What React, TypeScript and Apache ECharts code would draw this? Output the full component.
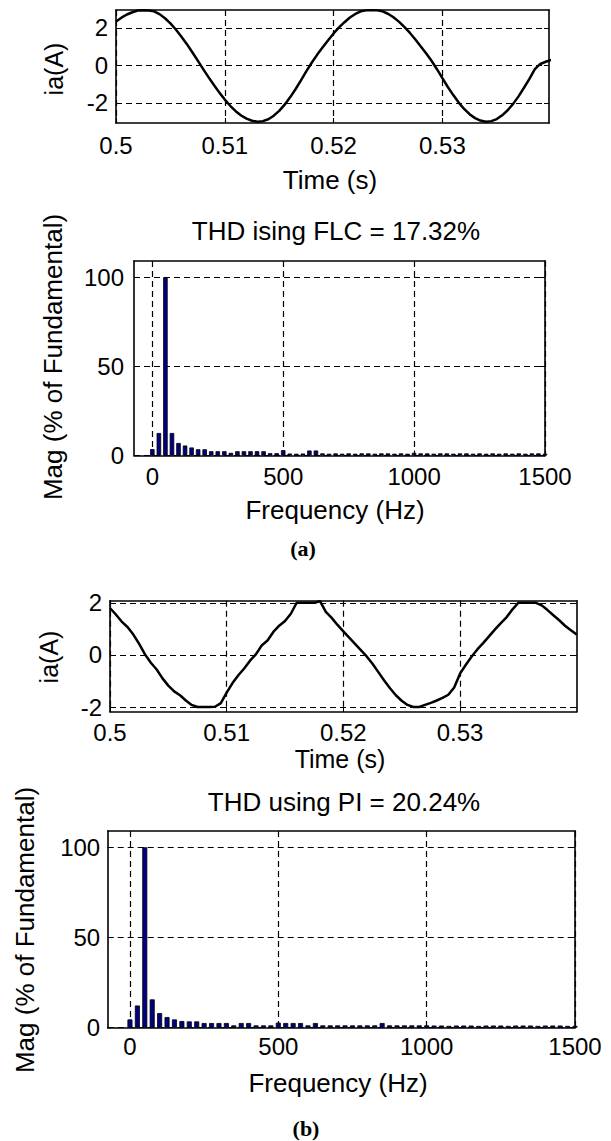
import React, { useEffect, useRef } from "react";
import * as echarts from "echarts";

// ---------- data ----------
const T_START = 0.5;
const T_STEP = 0.0005;

// (a) phase current with FLC, sampled every 0.5 ms from 0.5 s
const iaFLC = [
  2.35, 2.55, 2.72, 2.84, 2.93, 2.95, 2.93, 2.89, 2.74, 2.52,
  2.25, 1.92, 1.55, 1.15, 0.72, 0.27, -0.18, -0.62, -1.04, -1.45,
  -1.82, -2.15, -2.44, -2.67, -2.84, -2.95, -3.0, -2.97, -2.87, -2.68,
  -2.42, -2.09, -1.7, -1.27, -0.8, -0.3, 0.16, 0.58, 0.97, 1.35,
  1.71, 2.03, 2.31, 2.56, 2.75, 2.89, 2.94, 2.95, 2.94, 2.89,
  2.76, 2.57, 2.34, 2.06, 1.75, 1.4, 1.03, 0.65, 0.25, -0.2,
  -0.68, -1.15, -1.58, -1.98, -2.32, -2.6, -2.81, -2.94, -3.0, -2.97,
  -2.86, -2.66, -2.39, -2.05, -1.65, -1.19, -0.71, -0.2, 0.08, 0.2,
  0.3,
];

// (b) phase current with PI, sampled every 0.5 ms from 0.5 s
const iaPI = [
  1.8, 1.55, 1.28, 1.07, 0.78, 0.42, 0.02, -0.3, -0.56, -0.9,
  -1.18, -1.4, -1.55, -1.75, -1.92, -2.0, -2.0, -2.0, -1.99, -1.85,
  -1.45, -1.08, -0.78, -0.52, -0.22, 0.02, 0.36, 0.55, 0.88, 1.12,
  1.3, 1.58, 2.0, 2.0, 2.0, 2.0, 2.06, 1.65, 1.42, 1.15,
  0.9, 0.66, 0.42, 0.18, -0.06, -0.34, -0.66, -0.98, -1.28, -1.55,
  -1.76, -1.92, -2.0, -2.0, -1.92, -1.84, -1.75, -1.65, -1.53, -1.25,
  -0.72, -0.38, -0.06, 0.22, 0.46, 0.72, 0.98, 1.22, 1.45, 1.75,
  2.0, 2.0, 2.0, 2.0, 1.9, 1.72, 1.52, 1.33, 1.12, 0.95,
  0.78,
];

// spectra: bins every 25 Hz from 0 to 1500 Hz, % of fundamental
const FREQ_STEP = 25;
const magFLC = [
  3.6, 12.6, 100, 12.6, 7.0, 5.6, 4.5, 3.5, 3.5, 2.4,
  2.4, 2.4, 1.5, 2.4, 2.4, 2.4, 2.4, 2.4, 1.3, 1.3,
  3.0, 1.1, 1.0, 1.1, 2.8, 2.8, 1.2, 1.0, 1.2, 1.0,
  1.2, 1.0, 1.2, 1.2, 1.0, 1.2, 1.2, 1.0, 1.2, 1.0,
  1.5, 1.2, 1.2, 1.0, 1.2, 1.2, 1.0, 1.2, 1.2, 1.0,
  1.2, 1.0, 1.2, 1.0, 1.2, 1.0, 1.2, 1.0, 1.2, 1.2,
  1.0,
];
const magPI = [
  4.6, 12.3, 100, 15.7, 8.1, 5.9, 4.6, 3.7, 3.5, 3.5,
  2.6, 2.6, 2.6, 2.6, 1.3, 2.6, 2.6, 1.3, 1.3, 1.3,
  2.8, 2.6, 2.6, 2.6, 1.3, 2.6, 1.3, 1.3, 1.3, 1.3,
  1.3, 1.3, 1.3, 1.3, 2.6, 1.3, 1.3, 1.3, 1.3, 1.3,
  1.3, 1.2, 1.2, 1.0, 1.2, 1.2, 1.2, 1.0, 1.2, 1.2,
  1.2, 1.0, 1.2, 1.2, 1.2, 1.0, 1.2, 1.2, 1.2, 1.0,
  1.0,
];

const timeTicks = [0.5, 0.51, 0.52, 0.53];
const iaTicks = [-2, 0, 2];
const magTicks = [0, 50, 100];
const freqTicks = [0, 500, 1000, 1500];

const titleA = "THD ising FLC = 17.32%";
const titleB = "THD using PI = 20.24%";

// ---------- styling ----------
const FONT = '"Liberation Sans", Arial, Helvetica, sans-serif';
const SERIF = '"Liberation Serif", "Times New Roman", serif';
const INK = "#000";
const TICK_FS = 24;
const LABEL_FS = 26;

type Panel = {
  grid: { left: number; top: number; width: number; height: number };
  x: [number, number];
  y: [number, number];
  xt: number[];
  yt: number[];
  xMargin: number;
  yMargin: number;
};

const panels: Panel[] = [
  { grid: { left: 116, top: 10, width: 433, height: 113 }, x: [0.5, 0.5398], y: [-3.07, 2.96], xt: timeTicks, yt: iaTicks, xMargin: 10, yMargin: 8 },
  { grid: { left: 134, top: 261, width: 411, height: 194.5 }, x: [-70, 1500], y: [0, 109], xt: freqTicks, yt: magTicks, xMargin: 9, yMargin: 10 },
  { grid: { left: 110, top: 600.7, width: 466.7, height: 111 }, x: [0.5, 0.54], y: [-2.18, 2.08], xt: timeTicks, yt: iaTicks, xMargin: 9, yMargin: 8 },
  { grid: { left: 107.7, top: 831, width: 467.3, height: 196.7 }, x: [-75, 1500], y: [0, 109], xt: freqTicks, yt: magTicks, xMargin: 7, yMargin: 7.5 },
];

const fmt = (v: number) => String(Number(v.toFixed(4)));

function buildOption() {
  const grid: any[] = [];
  const xAxis: any[] = [];
  const yAxis: any[] = [];
  panels.forEach((p, g) => {
    grid.push({ ...p.grid, show: false, containLabel: false });
    const lineStyle = { color: INK, width: 1.6 };
    const splitStyle = { color: INK, width: 1.2, type: [6, 4] };
    xAxis.push({
      type: "value", gridIndex: g, min: p.x[0], max: p.x[1], position: "bottom",
      axisLine: { show: true, onZero: false, lineStyle },
      axisTick: { show: true, inside: true, length: 5, customValues: p.xt, lineStyle: { color: INK } },
      axisLabel: { show: true, customValues: p.xt, margin: p.xMargin, fontSize: TICK_FS, fontFamily: FONT, color: INK, formatter: fmt, showMinLabel: true, showMaxLabel: true },
      splitLine: { show: true, lineStyle: splitStyle },
    });
    xAxis.push({
      type: "value", gridIndex: g, min: p.x[0], max: p.x[1], position: "top",
      axisLine: { show: true, onZero: false, lineStyle },
      axisTick: { show: true, inside: true, length: 5, customValues: p.xt, lineStyle: { color: INK } },
      axisLabel: { show: false },
      splitLine: { show: false },
    });
    yAxis.push({
      type: "value", gridIndex: g, min: p.y[0], max: p.y[1], position: "left",
      axisLine: { show: true, onZero: false, lineStyle },
      axisTick: { show: true, inside: true, length: 5, customValues: p.yt, lineStyle: { color: INK } },
      axisLabel: { show: true, customValues: p.yt, margin: p.yMargin, fontSize: TICK_FS, fontFamily: FONT, color: INK, formatter: fmt },
      splitLine: { show: true, lineStyle: splitStyle },
    });
    yAxis.push({
      type: "value", gridIndex: g, min: p.y[0], max: p.y[1], position: "right",
      axisLine: { show: true, onZero: false, lineStyle },
      axisTick: { show: true, inside: true, length: 5, customValues: p.yt, lineStyle: { color: INK } },
      axisLabel: { show: false },
      splitLine: { show: false },
    });
  });

  const wave = (vals: number[]) => vals.map((v, i) => [Number((T_START + i * T_STEP).toFixed(4)), v]);
  const spec = (vals: number[]) => vals.map((v, i) => [i * FREQ_STEP, v]);

  const series: any[] = [
    { type: "line", xAxisIndex: 0, yAxisIndex: 0, data: wave(iaFLC), showSymbol: false, symbol: "none", clip: true, lineStyle: { color: INK, width: 2.5 }, silent: true },
    { type: "bar", xAxisIndex: 2, yAxisIndex: 2, data: spec(magFLC), barWidth: 4.5, itemStyle: { color: "#000080", borderColor: INK, borderWidth: 0.8 }, silent: true },
    { type: "line", xAxisIndex: 4, yAxisIndex: 4, data: wave(iaPI), showSymbol: false, symbol: "none", clip: true, lineStyle: { color: INK, width: 2.5 }, silent: true },
    { type: "bar", xAxisIndex: 6, yAxisIndex: 6, data: spec(magPI), barWidth: 5, itemStyle: { color: "#000080", borderColor: INK, borderWidth: 0.8 }, silent: true },
  ];

  const txt = (text: string, x: number, y: number, size: number, rotate = false, family = FONT, weight = "normal") => ({
    type: "text", x, y, rotation: rotate ? Math.PI / 2 : 0, silent: true,
    style: { text, fontSize: size, fontFamily: family, fontWeight: weight, fill: INK, align: "center", verticalAlign: "middle" },
  });

  const graphic = [
    txt("ia(A)", 54, 69, 25, true),
    txt("Time (s)", 330, 180, LABEL_FS),
    txt(titleA, 336, 231, LABEL_FS),
    txt("Mag (% of Fundamental)", 53, 357, LABEL_FS, true),
    txt("Frequency (Hz)", 335, 510, LABEL_FS),
    txt("(a)", 303, 548, 22, false, SERIF, "bold"),
    txt("ia(A)", 49, 657, 25, true),
    txt("Time (s)", 340, 759, 25),
    txt(titleB, 344, 802, LABEL_FS),
    txt("Mag (% of Fundamental)", 25, 930, LABEL_FS, true),
    txt("Frequency (Hz)", 338, 1083, LABEL_FS),
    txt("(b)", 306, 1128, 22, false, SERIF, "bold"),
  ];

  return {
    animation: false,
    backgroundColor: "#fff",
    grid,
    xAxis,
    yAxis,
    series,
    graphic,
  };
}

export default function App() {
  const ref = useRef<HTMLDivElement>(null);
  useEffect(() => {
    if (!ref.current) return;
    const chart = echarts.init(ref.current, undefined, { renderer: "svg" });
    chart.setOption(buildOption() as any);
    return () => chart.dispose();
  }, []);
  return <div ref={ref} style={{ position: "absolute", left: 0, top: 0, width: 611, height: 1141 }} />;
}
